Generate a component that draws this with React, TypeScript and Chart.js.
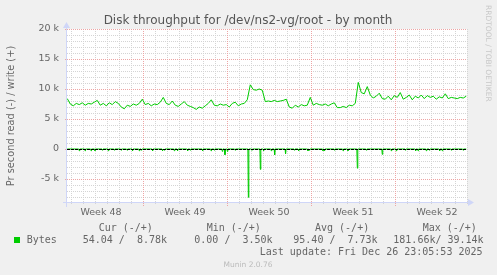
import React, { useEffect, useRef } from "react";
import { Chart, registerables } from "chart.js";

Chart.register(...registerables);

const CHART_TITLE = "Disk throughput for /dev/ns2-vg/root - by month";
const Y_AXIS_TITLE = "Pr second read (-) / write (+)";
const SERIES_NAME = "Bytes";

// x axis unit: days since Monday 24 Nov 2025 00:00
const weekLabels = ["Week 48", "Week 49", "Week 50", "Week 51", "Week 52"];
const weekCenters = [3.5, 10.5, 17.5, 24.5, 31.5];
const weekStarts = [7, 14, 21, 28];
const yTickValues = [-5000, 0, 5000, 10000, 15000, 20000];

const X_MIN = 0.667;
const X_MAX = 34.0;
const Y_MIN = -9000;
const Y_MAX = 20000;

// write (+), thousands of bytes per second, sampled every 6 hours
const writeStartDay = 0.69;
const writeStepDay = 0.25;
const writeK = [
  8.4, 7.5, 7.2, 7.6, 7.4, 7.7, 7.3, 7.6, 7.5, 7.8,
  8.1, 7.3, 7.6, 7.2, 7.7, 7.4, 7.9, 7.6, 7.0, 6.7,
  7.3, 7.1, 7.5, 7.3, 7.6, 8.3, 7.4, 7.6, 7.2, 7.5,
  7.4, 7.8, 8.6, 7.6, 7.4, 8.0, 7.3, 7.1, 7.5, 7.9,
  7.3, 7.1, 6.9, 6.6, 7.0, 6.8, 7.2, 7.6, 8.2, 7.3,
  7.2, 7.5, 7.3, 7.4, 7.0, 7.6, 7.8, 7.2, 7.5, 7.6,
  8.2, 10.7, 9.9, 9.8, 10.0, 9.8, 7.9, 8.0, 7.9, 8.1,
  7.9, 8.0, 8.1, 8.3, 7.0, 6.8, 7.3, 7.0, 7.4, 7.2,
  7.3, 8.6, 7.3, 7.6, 7.4, 7.3, 7.5, 7.2, 7.5, 7.7,
  6.9, 6.9, 7.1, 6.9, 7.3, 7.2, 7.6, 11.1, 9.4, 9.2,
  10.4, 9.0, 8.5, 8.8, 9.3, 8.4, 8.3, 8.8, 8.2, 8.9,
  8.6, 9.4, 8.3, 8.6, 9.0, 8.2, 8.8, 8.5, 9.0, 8.4,
  8.9, 8.6, 8.8, 8.3, 8.7, 8.5, 9.2, 8.4, 8.6, 8.5,
  8.4, 8.6, 8.5, 8.8,
];

// read (-), spikes (day, thousands of bytes per second); near zero elsewhere
const readSpikeDays = [
  1.69, 2.17, 2.67, 3.0, 3.63, 4.11, 4.61, 5.17, 5.67, 6.13,
  6.69, 6.88, 7.8, 8.63, 8.78, 9.61, 9.88, 10.72, 10.94, 11.97,
  12.67, 12.94, 13.61, 13.83, 14.03, 14.67, 15.78, 16.08, 16.78, 17.05,
  17.69, 17.97, 18.88, 19.63, 19.97, 20.75, 20.88, 22.0, 22.13, 22.97,
  23.67, 24.08, 24.86, 25.61, 26.94, 27.69, 28.11, 28.88, 29.72, 29.92,
  30.61, 30.88, 31.72, 31.94, 32.69, 33.67,
];
const readSpikeK = [
  -0.3, -0.3, -0.3, -0.3, -0.2, -0.3, -0.2, -0.2, -0.2, -0.3,
  -0.3, -0.2, -0.3, -0.3, -0.2, -0.3, -0.3, -0.3, -0.2, -0.3,
  -0.3, -0.2, -0.4, -0.95, -0.4, -0.2, -8.05, -0.2, -3.4, -0.3,
  -0.3, -1.0, -0.8, -0.2, -0.3, -0.3, -0.2, -0.3, -0.3, -0.2,
  -0.3, -0.3, -3.2, -0.2, -0.9, -0.3, -0.3, -0.2, -0.3, -0.3,
  -0.3, -0.2, -0.3, -0.3, -0.2, -0.2,
];

const legendHeaders = ["Cur (-/+)", "Min (-/+)", "Avg (-/+)", "Max (-/+)"];
const legendValues = ["54.04 /  8.78k", "0.00 /  3.50k", "95.40 /  7.73k", "181.66k/ 39.14k"];
const lastUpdate = "Last update: Fri Dec 26 23:05:53 2025";
const footerText = "Munin 2.0.76";
const watermarkText = "RRDTOOL / TOBI OETIKER";

const GREEN = "#00CC00";
const FONT_COLOR = "#666666";
const AXIS_COLOR = "#CFD6F8";
const SANS = "'DejaVu Sans', sans-serif";
const MONO = "'DejaVu Sans Mono', monospace";

const writePoints = writeK.map((v, i) => ({ x: writeStartDay + i * writeStepDay, y: v * 1000 }));
const lastDay = writeStartDay + (writeK.length - 1) * writeStepDay;
const readPoints: { x: number; y: number }[] = [{ x: writeStartDay, y: 0 }];
readSpikeDays.forEach((d, i) => {
  readPoints.push({ x: d - 0.04, y: 0 }, { x: d, y: readSpikeK[i] * 1000 }, { x: d + 0.04, y: 0 });
});
readPoints.push({ x: lastDay, y: 0 });

const munin = {
  id: "muninDecor",
  beforeDraw(chart: any) {
    const { ctx, width, height, chartArea } = chart;
    ctx.save();
    ctx.fillStyle = "#F0F0F0";
    ctx.fillRect(0, 0, width, height);
    ctx.fillStyle = "#FFFFFF";
    ctx.fillRect(chartArea.left, chartArea.top, chartArea.right - chartArea.left, chartArea.bottom - chartArea.top);
    ctx.restore();
  },
  beforeDatasetsDraw(chart: any) {
    const { ctx, chartArea, scales } = chart;
    const { left, right, top, bottom } = chartArea;
    const xs = scales.x;
    const ys = scales.y;
    ctx.save();
    ctx.lineWidth = 1;
    ctx.setLineDash([1, 1]);
    // minor grid
    ctx.strokeStyle = "#D4D4D4";
    for (let v = -8000; v <= Y_MAX; v += 1000) {
      if (v % 5000 === 0) continue;
      const p = Math.round(ys.getPixelForValue(v)) + 0.5;
      ctx.beginPath();
      ctx.moveTo(left, p);
      ctx.lineTo(right, p);
      ctx.stroke();
    }
    for (let d = Math.ceil(X_MIN); d <= X_MAX; d++) {
      if (weekStarts.includes(d)) continue;
      const p = Math.round(xs.getPixelForValue(d)) + 0.5;
      ctx.beginPath();
      ctx.moveTo(p, top);
      ctx.lineTo(p, bottom + 2);
      ctx.stroke();
    }
    // major grid
    ctx.strokeStyle = "#EDA5A5";
    yTickValues.forEach((v) => {
      const p = Math.round(ys.getPixelForValue(v)) + 0.5;
      ctx.beginPath();
      ctx.moveTo(left - 2, p);
      ctx.lineTo(right, p);
      ctx.stroke();
    });
    weekStarts.forEach((d) => {
      const p = Math.round(xs.getPixelForValue(d)) + 0.5;
      ctx.beginPath();
      ctx.moveTo(p, top);
      ctx.lineTo(p, bottom + 3);
      ctx.stroke();
    });
    ctx.restore();
  },
  afterDatasetsDraw(chart: any) {
    const { ctx, chartArea, scales } = chart;
    const { left, right, top, bottom } = chartArea;
    const ys = scales.y;
    ctx.save();
    // zero rule
    const z = Math.round(ys.getPixelForValue(0)) + 0.5;
    ctx.strokeStyle = "#000000";
    ctx.lineWidth = 1;
    ctx.setLineDash([3, 1]);
    ctx.beginPath();
    ctx.moveTo(left, z);
    ctx.lineTo(right, z);
    ctx.stroke();
    ctx.setLineDash([]);
    // axes
    ctx.strokeStyle = AXIS_COLOR;
    ctx.fillStyle = AXIS_COLOR;
    const by = Math.round(bottom) - 0.5;
    const lx = Math.round(left) - 0.5;
    ctx.beginPath();
    ctx.moveTo(left - 4, by);
    ctx.lineTo(right + 3, by);
    ctx.moveTo(lx, bottom + 4);
    ctx.lineTo(lx, top - 3);
    ctx.stroke();
    ctx.beginPath();
    ctx.moveTo(right + 7, by);
    ctx.lineTo(right + 1, by - 3.5);
    ctx.lineTo(right + 1, by + 3.5);
    ctx.closePath();
    ctx.fill();
    ctx.beginPath();
    ctx.moveTo(lx, top - 7);
    ctx.lineTo(lx - 3.5, top - 1);
    ctx.lineTo(lx + 3.5, top - 1);
    ctx.closePath();
    ctx.fill();
    ctx.restore();
  },
  afterDraw(chart: any) {
    const { ctx, width } = chart;
    ctx.save();
    ctx.fillStyle = "#555555";
    ctx.font = `12px ${SANS}`;
    ctx.textAlign = "center";
    ctx.textBaseline = "alphabetic";
    ctx.fillText(CHART_TITLE, 248, 23.5);

    ctx.fillStyle = FONT_COLOR;
    ctx.font = `10px ${MONO}`;
    ctx.textAlign = "left";
    const headX = [98.7, 206.7, 315, 422.7];
    legendHeaders.forEach((t, i) => ctx.fillText(t, headX[i], 231));
    const valX = [82.7, 194.3, 293.3, 393.3];
    ctx.fillStyle = GREEN;
    ctx.fillRect(14, 237, 6, 6);
    ctx.fillStyle = FONT_COLOR;
    ctx.fillText(SERIES_NAME, 26.7, 243);
    legendValues.forEach((t, i) => ctx.fillText(t, valX[i], 243));
    ctx.textAlign = "right";
    ctx.fillText(lastUpdate, 482.5, 255);

    ctx.fillStyle = "#BBBBBB";
    ctx.font = `7.5px ${SANS}`;
    ctx.textAlign = "center";
    ctx.fillText(footerText, 248, 266.5);

    ctx.fillStyle = "#C8C8C8";
    ctx.translate(width - 9, 5);
    ctx.rotate(Math.PI / 2);
    ctx.textAlign = "left";
    ctx.textBaseline = "middle";
    ctx.fillText(watermarkText, 0, 0);
    ctx.restore();
  },
};

export default function App() {
  const canvasRef = useRef<HTMLCanvasElement | null>(null);

  useEffect(() => {
    if (!canvasRef.current) return;
    const chart = new Chart(canvasRef.current, {
      type: "line",
      data: {
        datasets: [
          {
            label: "read",
            data: readPoints,
            borderColor: GREEN,
            borderWidth: 1,
            pointRadius: 0,
            tension: 0,
            fill: false,
          },
          {
            label: "write",
            data: writePoints,
            borderColor: GREEN,
            borderWidth: 1,
            pointRadius: 0,
            tension: 0,
            fill: false,
          },
        ],
      },
      options: {
        animation: false,
        responsive: false,
        maintainAspectRatio: false,
        devicePixelRatio: 1,
        layout: { padding: { left: 0, top: 29, right: 30, bottom: 0 } },
        plugins: {
          legend: { display: false },
          tooltip: { enabled: false },
          title: { display: false },
        },
        scales: {
          x: {
            type: "linear",
            min: X_MIN,
            max: X_MAX,
            grid: { display: false, drawTicks: false },
            border: { display: false },
            afterBuildTicks: (s: any) => {
              s.ticks = weekCenters.map((v) => ({ value: v }));
            },
            afterFit: (s: any) => {
              s.height = 72;
            },
            ticks: {
              autoSkip: false,
              maxRotation: 0,
              padding: 4,
              color: FONT_COLOR,
              font: { family: SANS, size: 9.5 },
              callback: (v: any) => weekLabels[weekCenters.indexOf(Number(v))] ?? "",
            },
          },
          y: {
            type: "linear",
            min: Y_MIN,
            max: Y_MAX,
            grid: { display: false, drawTicks: false },
            border: { display: false },
            afterBuildTicks: (s: any) => {
              s.ticks = yTickValues.map((v) => ({ value: v }));
            },
            afterFit: (s: any) => {
              s.width = 67;
            },
            ticks: {
              padding: 8,
              color: FONT_COLOR,
              font: { family: SANS, size: 9.5 },
              callback: (v: any) => (Number(v) === 0 ? "0" : `${Number(v) / 1000} k`),
            },
            title: {
              display: true,
              text: Y_AXIS_TITLE,
              color: FONT_COLOR,
              font: { family: SANS, size: 9.8 },
              padding: { top: 6, bottom: 0 },
            },
          },
        },
      },
      plugins: [munin],
    } as any);
    return () => chart.destroy();
  }, []);

  return (
    <div style={{ position: "fixed", left: 0, top: 0, width: 497, height: 275, background: "#F0F0F0" }}>
      <canvas ref={canvasRef} width={497} height={275} style={{ display: "block", width: 497, height: 275 }} />
    </div>
  );
}
